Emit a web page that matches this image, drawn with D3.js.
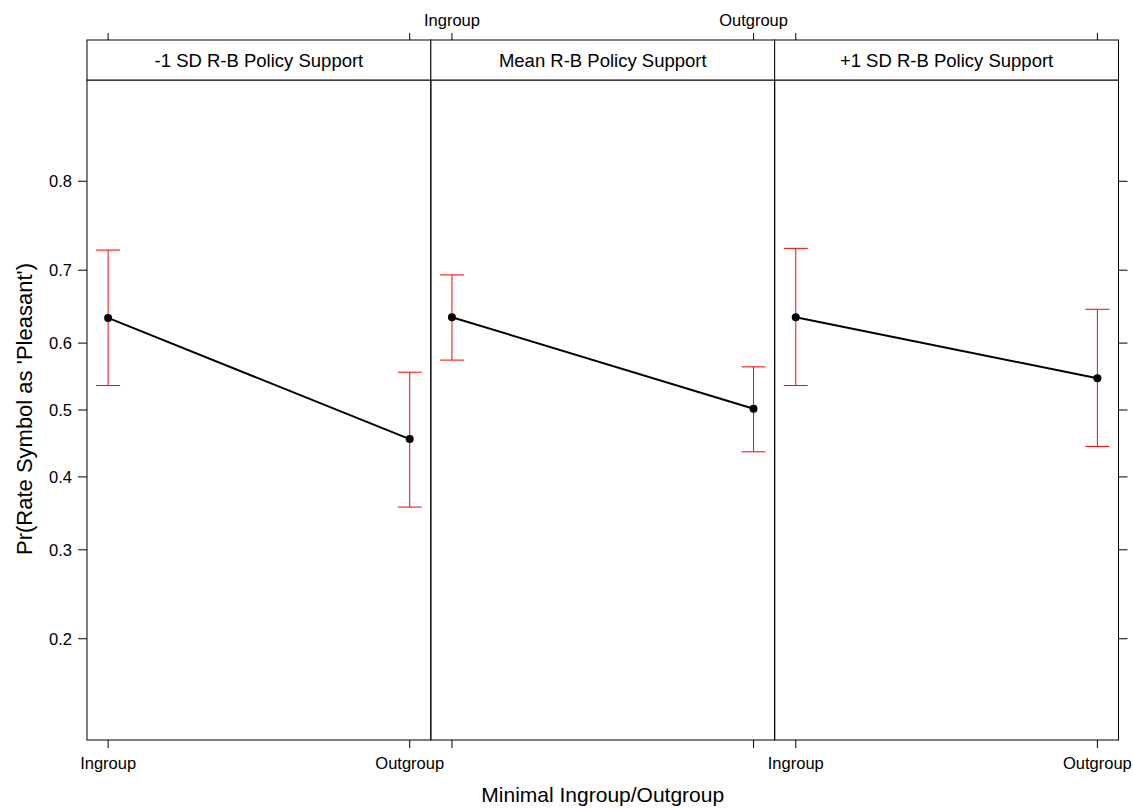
<!DOCTYPE html>
<html>
<head>
<meta charset="utf-8">
<script src="https://cdn.jsdelivr.net/npm/d3@7"></script>
<style>
  body { margin: 0; background: #fff; }
  svg text { font-family: Arial, "Liberation Sans", sans-serif; fill: #000; }
</style>
</head>
<body>
<div id="chart"></div>
<script>
// data (probabilities, logit-scaled axis)
const panels = ['-1 SD R-B Policy Support', 'Mean R-B Policy Support', '+1 SD R-B Policy Support'];
const groups = ['Ingroup', 'Outgroup'];
const fitValues = [[0.636, 0.456], [0.637, 0.502], [0.637, 0.548]];
const lowerValues = [[0.537, 0.357], [0.575, 0.437], [0.537, 0.445]];
const upperValues = [[0.725, 0.557], [0.694, 0.565], [0.727, 0.648]];
const yTicks = [0.2, 0.3, 0.4, 0.5, 0.6, 0.7, 0.8];

const width = 1133, height = 808;
const plotLeft = 87, plotRight = 1118.5, stripTop = 40, stripH = 40, plotBottom = 740;
const panelW = (plotRight - plotLeft) / panels.length;

const logit = p => Math.log(p / (1 - p));

const svg = d3.select('#chart').append('svg')
    .attr('width', width)
    .attr('height', height);

// y on logit scale, domain [-2, 2] in logit units
const yLin = d3.scaleLinear().domain([-2, 2]).range([plotBottom, stripTop + stripH]);
const y = p => yLin(logit(p));

panels.forEach((title, i) => {
    const x0 = plotLeft + i * panelW;
    const x = d3.scalePoint().domain(groups).range([x0, x0 + panelW]).padding(0.07);
    const g = svg.append('g');

    // panel box
    g.append('rect')
        .attr('x', x0).attr('y', stripTop + stripH)
        .attr('width', panelW).attr('height', plotBottom - stripTop - stripH)
        .attr('fill', 'none').attr('stroke', '#000').attr('stroke-width', 1);

    // strip
    g.append('rect')
        .attr('x', x0).attr('y', stripTop)
        .attr('width', panelW).attr('height', stripH)
        .attr('fill', '#fff').attr('stroke', '#000').attr('stroke-width', 1);
    g.append('text')
        .attr('x', x0 + panelW / 2).attr('y', stripTop + stripH / 2 + 6.5)
        .attr('text-anchor', 'middle')
        .attr('font-size', 18.5)
        .text(title);

    // x ticks bottom and top; labels alternate like lattice
    groups.forEach(grp => {
        const xx = x(grp);
        g.append('line').attr('x1', xx).attr('x2', xx).attr('y1', plotBottom).attr('y2', plotBottom + 8)
            .attr('stroke', '#000');
        g.append('line').attr('x1', xx).attr('x2', xx).attr('y1', stripTop).attr('y2', stripTop - 7)
            .attr('stroke', '#000');
        if (i % 2 === 0) {
            g.append('text').attr('x', xx).attr('y', plotBottom + 29)
                .attr('text-anchor', 'middle').attr('font-size', 16.5).text(grp);
        } else {
            g.append('text').attr('x', xx).attr('y', 26)
                .attr('text-anchor', 'middle').attr('font-size', 16.5).text(grp);
        }
    });

    // error bars
    groups.forEach((grp, j) => {
        const xx = x(grp);
        const lo = y(lowerValues[i][j]), hi = y(upperValues[i][j]);
        g.append('line').attr('x1', xx).attr('x2', xx).attr('y1', lo).attr('y2', hi)
            .attr('stroke', '#ff0000').attr('stroke-width', 1);
        [lo, hi].forEach(v => {
            g.append('line').attr('x1', xx - 12).attr('x2', xx + 12).attr('y1', v).attr('y2', v)
                .attr('stroke', '#ff0000').attr('stroke-width', 1);
        });
    });

    // fitted line and points
    const line = d3.line().x((d, j) => x(groups[j])).y(d => y(d));
    g.append('path').datum(fitValues[i])
        .attr('d', line)
        .attr('fill', 'none').attr('stroke', '#000').attr('stroke-width', 2);
    g.selectAll('circle').data(fitValues[i]).enter().append('circle')
        .attr('cx', (d, j) => x(groups[j]))
        .attr('cy', d => y(d))
        .attr('r', 4)
        .attr('fill', '#000');
});

// y axes: labels left, ticks both sides
yTicks.forEach(t => {
    svg.append('line').attr('x1', plotLeft - 9).attr('x2', plotLeft).attr('y1', y(t)).attr('y2', y(t))
        .attr('stroke', '#000');
    svg.append('line').attr('x1', plotRight).attr('x2', plotRight + 9).attr('y1', y(t)).attr('y2', y(t))
        .attr('stroke', '#000');
    svg.append('text').attr('x', plotLeft - 15).attr('y', y(t) + 6)
        .attr('text-anchor', 'end').attr('font-size', 16.5).text(t.toFixed(1));
});

// axis titles
svg.append('text')
    .attr('x', (plotLeft + plotRight) / 2).attr('y', 802)
    .attr('text-anchor', 'middle').attr('font-size', 21)
    .text('Minimal Ingroup/Outgroup');
svg.append('text')
    .attr('transform', 'translate(32, 409) rotate(-90)')
    .attr('text-anchor', 'middle').attr('font-size', 22)
    .text("Pr(Rate Symbol as 'Pleasant')");
</script>
</body>
</html>
